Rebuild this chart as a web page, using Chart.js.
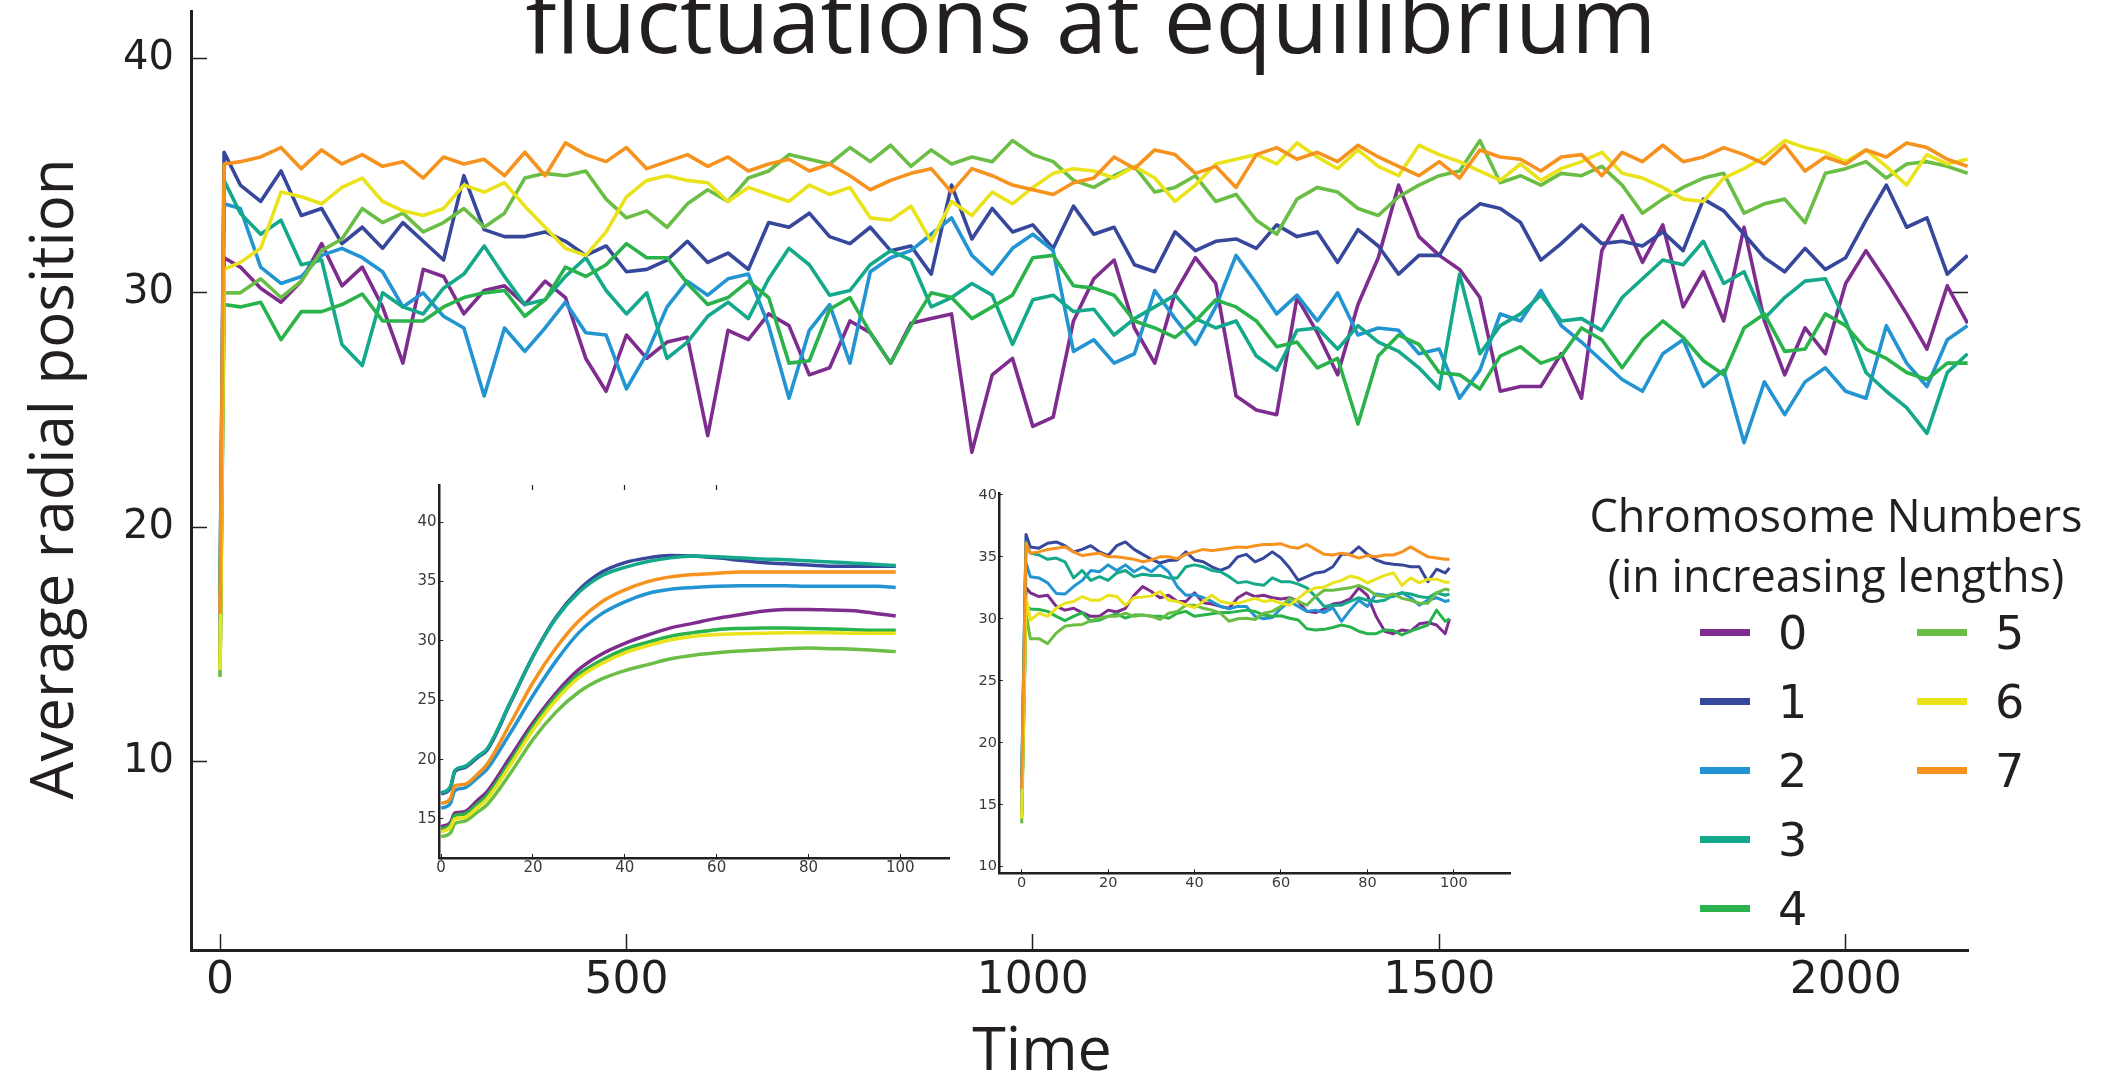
<!DOCTYPE html>
<html><head><meta charset="utf-8">
<script src="https://cdn.jsdelivr.net/npm/chart.js@4.4.1/dist/chart.umd.min.js"></script>
<style>
html,body{margin:0;padding:0;background:#fff;}
#page{position:relative;width:2127px;height:1074px;overflow:hidden;background:#fff;font-family:'Open Sans',sans-serif;color:#231f20;}
canvas{position:absolute;}
.t{position:absolute;white-space:nowrap;}
</style></head><body><div id="page">
<canvas id="main" width="2127" height="1074" style="left:0;top:0;width:2127px;height:1074px"></canvas>
<canvas id="insetL" width="590" height="430" style="left:380px;top:470px;width:590px;height:430px"></canvas>
<canvas id="insetR" width="580" height="430" style="left:950px;top:470px;width:580px;height:430px"></canvas>
<div class="t" id="title" style="left:1091px;top:-32px;transform:translateX(-50%);font-size:92px;line-height:100px;">fluctuations at equilibrium</div>
<div class="t" id="ytitle" style="left:-400px;top:438px;width:900px;text-align:center;font-size:60px;line-height:82px;transform:rotate(-90deg);">Average radial position</div>
<div class="t" id="xtitle" style="left:1042px;top:1012px;transform:translateX(-50%);font-size:61px;line-height:70px;">Time</div>
<div class="t" id="legtitle" style="left:1836px;top:485px;transform:translateX(-50%);font-size:45px;line-height:60px;text-align:center;">Chromosome Numbers<br>(in increasing lengths)</div>
</div>
<script>
// ---------------- data ----------------
const SERIES_NAMES = ['0','1','2','3','4','5','6','7'];
const SERIES_COLORS = ['#7E2D8F','#37479B','#2294D2','#14A98B','#2AB24B','#6BBE45','#EAE31B','#F6921E'];

const MAIN_TIME = [0,5,25,50,75,100,125,150,175,200,225,250,275,300,325,350,375,400,425,450,475,500,525,
550,575,600,625,650,675,700,725,750,775,800,825,850,875,900,925,950,975,1000,1025,1050,
1075,1100,1125,1150,1175,1200,1225,1250,1275,1300,1325,1350,1375,1400,1425,1450,1475,1500,1525,1550,1575,
1600,1625,1650,1675,1700,1725,1750,1775,1800,1825,1850,1875,1900,1925,1950,1975,2000,2025,2050,2075,2100,2125,2150];

const MAIN_0 = [14.3,31.5,
31.1,30.2,29.6,30.5,32.1,30.3,31.1,29.4,27.0,31.0,30.7,29.1,30.1,30.3,29.5,30.5,29.8,27.2,25.8,28.2,27.2,
27.9,28.1,23.9,28.4,28.0,29.1,28.6,26.5,26.8,28.8,28.3,27.0,28.7,28.9,29.1,23.2,26.5,27.2,24.3,24.7,28.8,
30.6,31.4,28.5,27.0,30.0,31.5,30.4,25.6,25.0,24.8,29.8,28.3,26.5,29.5,31.5,34.6,32.4,31.6,31.0,29.8,25.8,
26.0,26.0,27.4,25.5,31.8,33.3,31.3,32.9,29.4,30.9,28.8,32.8,28.8,26.5,28.5,27.4,30.4,31.8,30.5,29.1,27.6,30.3,28.7];
const MAIN_1 = [17.1,36.0,
34.6,33.9,35.2,33.3,33.6,32.1,32.8,31.9,33.0,32.2,31.4,35.0,32.7,32.4,32.4,32.6,32.2,31.6,32.0,30.9,31.0,
31.4,32.2,31.3,31.7,31.0,33.0,32.8,33.4,32.4,32.1,32.8,31.8,32.0,30.8,34.6,32.3,33.6,32.6,32.9,31.9,33.7,
32.5,32.8,31.2,30.9,32.6,31.8,32.2,32.3,31.9,32.9,32.4,32.6,31.3,32.7,32.0,30.8,31.6,31.6,33.1,33.8,33.6,
33.0,31.4,32.1,32.9,32.1,32.2,32.0,32.6,31.8,34.0,33.5,32.5,31.5,30.9,31.9,31.0,31.5,33.1,34.6,32.8,33.2,30.8,31.6];
const MAIN_2 = [16.0,33.8,
33.6,31.1,30.4,30.7,31.6,31.9,31.5,30.9,29.4,30.0,29.0,28.5,25.6,28.5,27.5,28.5,29.6,28.3,28.2,25.9,27.4,
29.4,30.5,29.9,30.6,30.8,28.6,25.5,28.4,29.5,27.0,30.9,31.5,31.8,32.5,33.2,31.6,30.8,31.9,32.5,31.8,27.5,
28.0,27.0,27.4,30.1,28.9,27.8,29.4,31.6,30.4,29.1,29.9,28.8,30.0,28.2,28.5,28.4,27.4,27.6,25.5,26.7,29.1,
28.8,30.1,28.6,27.9,27.1,26.3,25.8,27.4,28.0,26.0,26.7,23.6,26.2,24.8,26.2,26.8,25.8,25.5,28.6,27.0,26.0,28.0,28.6];
const MAIN_3 = [17.2,34.8,
33.4,32.5,33.1,31.2,31.4,27.8,26.9,30.0,29.4,29.1,30.2,30.8,32.0,30.7,29.5,29.7,30.7,31.5,30.1,29.1,30.0,
27.2,27.9,29.0,29.6,28.9,30.6,31.9,31.2,29.9,30.1,31.2,31.8,31.4,29.4,29.8,30.4,29.9,27.8,29.7,29.9,29.2,
29.3,28.2,28.9,29.4,29.9,28.9,28.5,28.8,27.3,26.7,28.4,28.5,27.6,28.6,27.9,27.5,26.8,25.9,30.8,27.4,28.6,
29.1,29.9,28.8,28.9,28.4,29.8,30.6,31.4,31.2,32.2,30.4,30.9,28.9,29.8,30.5,30.6,28.8,26.6,25.8,25.1,24.0,26.6,27.4];
const MAIN_4 = [14.1,29.5,
29.4,29.6,28.0,29.2,29.2,29.5,29.95,28.8,28.8,28.8,29.4,29.8,30.0,30.1,29.0,29.7,31.1,30.7,31.2,32.1,31.5,
31.5,30.4,29.5,29.8,30.5,29.8,27.0,27.1,29.3,29.8,28.3,27.0,28.6,30.0,29.8,28.9,29.4,29.9,31.5,31.6,30.3,
30.2,29.9,28.8,28.5,28.1,28.8,29.7,29.4,28.8,27.7,27.9,26.8,27.2,24.4,27.3,28.2,27.8,26.6,26.5,25.9,27.3,
27.7,27.0,27.3,28.5,28.0,26.8,28.0,28.8,28.1,27.1,26.5,28.5,29.1,27.5,27.6,29.1,28.6,27.6,27.2,26.6,26.3,27.0,27.0];
const MAIN_5 = [13.6,30.0,
30.0,30.6,29.8,30.5,31.8,32.3,33.6,33.0,33.4,32.6,33.0,33.6,32.8,33.4,34.9,35.1,35.0,35.2,34.0,33.2,33.5,
32.8,33.8,34.4,33.9,34.9,35.2,35.9,35.7,35.5,36.2,35.6,36.3,35.4,36.1,35.5,35.8,35.6,36.5,35.9,35.6,34.8,
34.5,35.0,35.4,34.3,34.5,35.0,33.9,34.2,33.1,32.5,34.0,34.5,34.3,33.6,33.3,34.1,34.6,35.0,35.2,36.5,34.7,
35.0,34.6,35.1,35.0,35.4,34.6,33.4,34.0,34.5,34.9,35.1,33.4,33.8,34.0,33.0,35.1,35.3,35.6,34.9,35.5,35.6,35.4,35.1];
const MAIN_6 = [13.9,31.0,
31.3,31.9,34.3,34.1,33.8,34.5,34.9,33.9,33.5,33.3,33.6,34.6,34.3,34.7,33.7,32.8,31.9,31.6,32.6,34.1,34.8,
35.0,34.8,34.7,33.9,34.5,34.2,33.9,34.6,34.2,34.5,33.2,33.1,33.7,32.2,33.9,33.3,34.3,33.8,34.5,35.1,35.3,
35.2,34.9,35.4,34.9,33.9,34.6,35.5,35.7,35.9,35.5,36.4,35.8,35.3,36.1,35.4,35.0,36.3,35.9,35.6,35.2,34.8,
35.5,34.8,35.3,35.6,36.0,35.1,34.9,34.5,34.0,33.9,34.9,35.3,35.8,36.5,36.2,36.0,35.6,36.1,35.4,34.6,35.9,35.5,35.7];
const MAIN_7 = [16.3,35.5,
35.6,35.8,36.2,35.3,36.1,35.5,35.9,35.4,35.6,34.9,35.8,35.5,35.7,35.0,36.0,35.0,36.4,35.9,35.6,36.2,35.3,
35.6,35.9,35.4,35.8,35.2,35.5,35.7,35.2,35.5,35.0,34.4,34.8,35.1,35.3,34.3,35.3,35.0,34.6,34.4,34.2,34.7,
34.9,35.8,35.3,36.1,35.9,35.1,35.4,34.5,35.9,36.2,35.7,36.0,35.6,36.3,35.8,35.4,35.0,35.6,34.9,36.1,35.8,
35.7,35.2,35.8,35.9,35.0,36.0,35.6,36.3,35.6,35.8,36.2,35.9,35.5,36.3,35.2,35.8,35.5,36.1,35.8,36.4,36.2,35.7,35.4];

const INSET_L_TIME = [0,2,3,5,8,10,15,20,25,30,35,40,45,50,55,60,65,70,75,80,85,90,95,99];
const INSET_L_0 = [14.35,14.7,15.5,15.6,16.6,17.3,20.2,23.1,25.6,27.6,28.9,29.8,30.5,31.1,31.5,31.9,32.2,32.5,32.65,32.65,32.6,32.55,32.3,32.1];
const INSET_L_1 = [17.1,17.6,19.0,19.3,20.2,20.8,24.7,28.7,32.0,34.3,35.8,36.6,37.0,37.2,37.15,37.0,36.8,36.6,36.5,36.4,36.3,36.3,36.3,36.3];
const INSET_L_2 = [15.9,16.3,17.4,17.6,18.5,19.2,22.2,25.4,28.3,30.7,32.3,33.3,34.0,34.35,34.5,34.6,34.65,34.65,34.65,34.6,34.6,34.6,34.6,34.5];
const INSET_L_3 = [17.2,17.7,19.1,19.4,20.3,20.9,24.8,28.7,31.9,34.1,35.5,36.2,36.7,37.0,37.15,37.1,37.0,36.9,36.85,36.75,36.65,36.55,36.45,36.35];
const INSET_L_4 = [14.15,14.5,15.3,15.4,16.3,17.0,19.8,22.8,25.3,27.2,28.4,29.3,29.9,30.4,30.7,30.95,31.05,31.1,31.1,31.05,31.0,30.95,30.9,30.9];
const INSET_L_5 = [13.5,13.8,14.6,14.8,15.6,16.2,18.8,21.7,24.0,25.7,26.8,27.5,28.0,28.5,28.8,29.0,29.15,29.25,29.35,29.4,29.35,29.3,29.2,29.1];
const INSET_L_6 = [13.9,14.3,15.0,15.1,16.0,16.7,19.5,22.5,25.0,26.9,28.1,29.0,29.6,30.1,30.4,30.55,30.6,30.65,30.7,30.7,30.7,30.65,30.65,30.65];
const INSET_L_7 = [16.3,16.7,17.8,17.9,18.8,19.6,23.0,26.5,29.4,31.7,33.3,34.3,35.0,35.4,35.6,35.7,35.8,35.8,35.8,35.8,35.8,35.8,35.8,35.8];

const INSET_R_TIME = [0,1,2,4,6,8,10,12,14,16,18,20,22,24,26,28,30,32,34,36,38,40,42,44,46,48,50,52,54,56,58,60,62,64,66,68,70,72,74,76,78,80,82,84,86,88,90,92,94,96,98,99];
const INSET_R_0 = [14.3,32.5,32.1,31.8,31.9,31.0,30.7,30.85,30.5,30.2,30.2,30.7,30.55,30.85,31.9,32.6,32.2,31.7,31.9,31.4,31.4,32.1,31.3,31.2,31.0,30.85,31.7,32.1,31.8,31.9,31.7,31.6,31.7,31.4,30.6,30.5,30.8,31.2,31.3,31.6,32.5,31.9,30.2,29.0,28.8,29.1,29.0,29.6,29.7,29.5,28.8,30.0];
const INSET_R_1 = [17.1,36.8,35.8,35.7,36.1,36.2,35.9,35.4,35.6,35.9,35.4,35.1,35.9,36.2,35.6,35.2,34.8,34.5,34.7,34.75,35.4,34.75,34.6,34.2,33.9,34.2,35.0,35.2,34.6,34.9,35.4,34.9,34.1,33.1,33.4,33.7,33.8,34.2,35.2,35.2,35.8,35.2,34.75,34.5,34.4,34.35,34.2,34.2,33.0,34.0,33.7,34.1];
const INSET_R_2 = [16.0,34.5,33.4,33.3,32.9,32.05,32.0,32.6,33.1,33.9,33.8,34.35,33.9,34.35,33.8,34.2,33.8,34.35,33.8,32.6,31.9,31.95,31.7,31.4,31.0,30.8,31.0,31.0,30.2,30.0,30.1,30.85,31.4,31.0,30.6,30.7,30.5,30.9,29.8,30.7,31.5,31.0,32.0,31.9,31.8,32.1,31.7,31.1,31.5,31.7,31.4,31.5];
const INSET_R_3 = [17.2,36.2,35.3,35.15,34.8,34.9,34.6,33.3,33.9,33.1,33.4,33.1,33.7,33.9,33.4,33.6,33.5,33.5,33.3,33.3,34.2,34.35,34.2,33.9,33.8,33.4,32.9,33.0,32.8,32.7,33.3,33.0,33.0,32.8,32.5,31.8,31.0,31.1,31.1,31.4,31.7,31.5,31.4,31.5,31.9,32.1,32.0,31.8,31.7,32.1,31.9,32.0];
const INSET_R_4 = [14.1,31.0,30.8,30.75,30.6,30.2,29.85,30.2,30.5,29.8,29.9,30.2,30.4,30.05,30.3,30.3,30.2,30.2,30.05,30.45,30.6,30.2,30.3,30.4,30.5,30.5,30.6,30.7,30.6,30.3,30.2,30.25,30.05,29.9,29.2,29.1,29.15,29.3,29.5,29.35,29.0,28.8,28.8,29.1,29.05,28.7,29.0,29.25,29.5,30.7,29.8,30.0];
const INSET_R_5 = [13.5,30.45,28.4,28.4,28.0,28.85,29.4,29.5,29.55,29.85,30.05,30.2,30.2,30.45,30.2,30.3,30.2,29.95,30.45,30.6,31.1,31.1,30.85,30.7,30.45,29.8,30.0,30.05,29.95,30.45,30.6,31.0,31.65,31.4,31.1,31.8,32.3,32.3,32.4,32.5,32.7,32.4,31.9,31.8,32.0,31.65,31.5,31.25,31.25,32.1,32.4,32.3];
const INSET_R_6 = [13.9,31.8,29.9,30.45,30.2,30.85,31.25,31.4,31.8,31.5,31.5,31.9,31.8,31.1,31.7,31.75,31.85,32.2,31.5,31.4,31.1,30.9,31.4,31.9,31.4,31.25,31.25,31.45,31.65,31.4,31.5,31.25,31.1,31.65,32.2,32.5,32.55,32.9,33.1,33.45,33.3,32.9,33.2,33.5,33.7,32.7,33.3,32.9,33.2,33.2,32.95,32.95];
const INSET_R_7 = [16.3,36.1,35.3,35.4,35.6,35.7,35.8,35.4,35.1,35.2,35.3,35.0,35.0,34.9,34.8,34.6,34.75,35.0,35.0,34.85,35.2,35.4,35.6,35.5,35.6,35.7,35.8,35.75,35.9,36.0,36.0,36.05,35.8,35.7,36.0,35.6,35.2,35.15,35.3,35.15,34.9,35.1,35.0,35.15,35.15,35.4,35.8,35.4,35.0,34.9,34.8,34.8];

const MAIN_X_TICKS = [0,500,1000,1500,2000];
const MAIN_X_LABELS = ['0','500','1000','1500','2000'];
const MAIN_Y_TICKS = [10,20,30,40];
const MAIN_Y_LABELS = ['10','20','30','40'];
const INSET_X_TICKS = [0,20,40,60,80,100];
const INSET_X_LABELS = ['0','20','40','60','80','100'];
const INSET_L_Y_TICKS = [15,20,25,30,35,40];
const INSET_L_Y_LABELS = ['15','20','25','30','35','40'];
const INSET_R_Y_TICKS = [10,15,20,25,30,35,40];
const INSET_R_Y_LABELS = ['10','15','20','25','30','35','40'];

// ---------------- helpers ----------------
const INK = '#231f20';
const pts = (xs, ys) => xs.map((x, i) => ({x: x, y: ys[i]}));

function linAxis(o) {
  const horiz = (o.position === 'bottom' || o.position === 'top');
  return {
    type: 'linear', position: o.position, min: o.min, max: o.max,
    afterFit: s => {
      if (horiz) s.height = o.size; else s.width = o.size;
      s.paddingLeft = 0; s.paddingRight = 0; s.paddingTop = 0; s.paddingBottom = 0;
    },
    afterBuildTicks: s => { s.ticks = o.ticks.map(v => ({value: v})); },
    ticks: {
      autoSkip: false, maxRotation: 0, minRotation: 0, padding: o.pad,
      color: o.color || INK,
      font: {family: 'DejaVu Sans', size: o.font || 12},
      callback: (v, i) => (o.labels ? o.labels[i] : '')
    },
    grid: { display: true, drawOnChartArea: false, drawTicks: true, tickLength: o.tl,
            tickWidth: o.tw || 1, tickColor: INK },
    border: { display: o.border !== false, color: INK, width: o.bw || 2 }
  };
}

function datasets(xs, arrs, width, smooth) {
  return arrs.map((a, i) => ({
    label: SERIES_NAMES[i],
    data: pts(xs, a),
    borderColor: SERIES_COLORS[i],
    backgroundColor: SERIES_COLORS[i],
    borderWidth: width,
    pointRadius: 0,
    tension: smooth ? 0.4 : 0,
    cubicInterpolationMode: smooth ? 'monotone' : 'default',
    borderJoinStyle: 'round',
    fill: false,
    order: 7 - i
  }));
}

const baseOpts = (padding, scales) => ({
  responsive: false, animation: false, devicePixelRatio: 1, events: [],
  layout: { padding: padding },
  plugins: { legend: { display: false }, tooltip: { enabled: false }, title: { display: false } },
  scales: scales
});

// ---------------- main chart ----------------
new Chart(document.getElementById('main'), {
  type: 'line',
  data: { datasets: datasets(MAIN_TIME, [MAIN_0,MAIN_1,MAIN_2,MAIN_3,MAIN_4,MAIN_5,MAIN_6,MAIN_7], 3.6, false) },
  options: baseOpts({left: 0, right: 159, top: 11, bottom: 0}, {
    x: linAxis({position: 'bottom', min: -35.7, max: 2150.5, size: 124, ticks: MAIN_X_TICKS, labels: MAIN_X_LABELS,
                pad: 21.6, font: 44, tl: -16, tw: 1.5, bw: 3}),
    y: linAxis({position: 'left', min: 1.95, max: 42.03, size: 191, ticks: MAIN_Y_TICKS, labels: MAIN_Y_LABELS,
                pad: 33, font: 40, tl: -16, tw: 1.5, bw: 3}),
    y2: linAxis({position: 'right', min: 1.95, max: 42.03, size: 0, ticks: [30], labels: null,
                pad: 0, font: 1, tl: -16, tw: 1.5, border: false})
  })
});

// ---------------- left inset (smooth) ----------------
new Chart(document.getElementById('insetL'), {
  type: 'line',
  data: { datasets: datasets(INSET_L_TIME, [INSET_L_0,INSET_L_1,INSET_L_2,INSET_L_3,INSET_L_4,INSET_L_5,INSET_L_6,INSET_L_7], 3.5, true) },
  options: baseOpts({left: 0, right: 21, top: 15, bottom: 0}, {
    x: linAxis({position: 'bottom', min: -0.4, max: 110.6, size: 42, ticks: INSET_X_TICKS, labels: INSET_X_LABELS,
                pad: 5, font: 15, tl: -4, tw: 1, bw: 2.5, color: '#3a3a3a'}),
    x2: linAxis({position: 'top', min: -0.4, max: 110.6, size: 0, ticks: [20,40,60], labels: null,
                pad: 0, font: 1, tl: -5, tw: 1.2, border: false}),
    y: linAxis({position: 'left', min: 11.71, max: 43.14, size: 59.3, ticks: INSET_L_Y_TICKS, labels: INSET_L_Y_LABELS,
                pad: 6.7, font: 15, tl: -4, tw: 1, bw: 2.5, color: '#3a3a3a'})
  })
});

// ---------------- right inset (noisy) ----------------
new Chart(document.getElementById('insetR'), {
  type: 'line',
  data: { datasets: datasets(INSET_R_TIME, [INSET_R_0,INSET_R_1,INSET_R_2,INSET_R_3,INSET_R_4,INSET_R_5,INSET_R_6,INSET_R_7], 3, false) },
  options: baseOpts({left: 0, right: 20, top: 23, bottom: 0}, {
    x: linAxis({position: 'bottom', min: -5.3, max: 113, size: 26.7, ticks: INSET_X_TICKS, labels: INSET_X_LABELS,
                pad: 5, font: 14.5, tl: -4, tw: 1, bw: 2.5, color: '#3a3a3a'}),
    y: linAxis({position: 'left', min: 9.47, max: 40.15, size: 48.8, ticks: INSET_R_Y_TICKS, labels: INSET_R_Y_LABELS,
                pad: 5.8, font: 14.5, tl: -4, tw: 1, bw: 2.5, color: '#3a3a3a'})
  })
});

// ---------------- legend (HTML) ----------------
(function () {
  const page = document.getElementById('page');
  const rows = [632, 701, 770, 839, 908];
  const cols = [{line: 1700, text: 1778}, {line: 1917, text: 1995}];
  SERIES_NAMES.forEach((name, i) => {
    const c = cols[i < 5 ? 0 : 1];
    const yc = rows[i < 5 ? i : i - 5];
    const sw = document.createElement('div');
    sw.style.cssText = 'position:absolute;left:' + c.line + 'px;top:' + (yc - 3.5) + 'px;width:50px;height:7px;background:' + SERIES_COLORS[i] + ';';
    page.appendChild(sw);
    const tx = document.createElement('div');
    tx.className = 't';
    tx.textContent = name;
    tx.style.cssText += 'left:' + c.text + 'px;top:' + (yc - 26.2) + 'px;font-family:"DejaVu Sans";font-size:46px;line-height:54px;color:' + INK + ';';
    page.appendChild(tx);
  });
})();
</script>
</body></html>
